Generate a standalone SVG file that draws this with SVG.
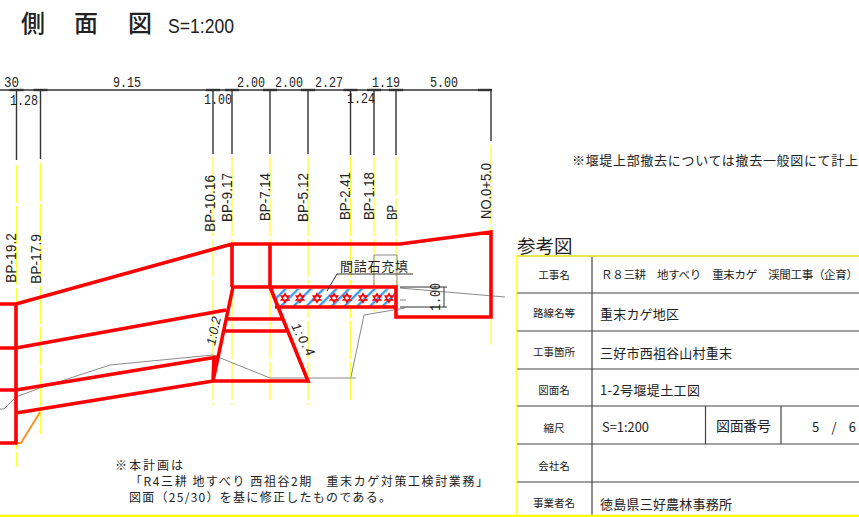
<svg xmlns="http://www.w3.org/2000/svg" xmlns:xlink="http://www.w3.org/1999/xlink" width="859" height="517" viewBox="0 0 859 517">
<style>
text{font-family:"Noto Sans CJK JP","Liberation Sans",sans-serif;fill:#222}
.dim{font-family:"Liberation Mono",monospace;font-size:14px}
.bp{font-family:"Liberation Sans",sans-serif;font-size:14px}
.blk{stroke:#333;stroke-width:1.4;fill:none}
.yel{stroke:#ffff33;stroke-width:1.3;fill:none}
.dash{stroke-dasharray:38 3}
.red{stroke:#ff0000;stroke-width:3.6;fill:none;stroke-linejoin:miter}
.gry{stroke:#8a8a8a;stroke-width:1;fill:none}
.tb{stroke:#444;stroke-width:1.2;fill:none}
.lab{font-size:10.5px;text-anchor:middle}
.val{font-size:13px}
.star{fill:none;stroke:#ff0000;stroke-width:1.3}
</style>
<defs>
<pattern id="hatch" width="9" height="9" patternUnits="userSpaceOnUse" patternTransform="rotate(45)">
<rect width="9" height="9" fill="#fff"/><rect x="0" y="0" width="2.4" height="9" fill="#3d9bea"/>
</pattern>
<g id="st"><path class="star" d="M0-4.5 3.9 2.2H-3.9ZM0 4.5 3.9-2.2H-3.9Z"/></g>
<g id="tick"><path d="M-7 0H7" stroke="#333" stroke-width="2.4"/></g>
</defs>
<rect width="859" height="517" fill="#fff"/>
<g id="title">
<text x="21" y="32" font-size="24" font-weight="500">側</text>
<text x="74" y="32" font-size="24" font-weight="500">面</text>
<text x="128" y="32" font-size="24" font-weight="500">図</text>
<text x="168" y="33" style="font-family:'Liberation Sans',sans-serif" font-size="21" textLength="66" lengthAdjust="spacingAndGlyphs">S=1:200</text>
</g>
<g id="connectors">
<path class="yel dash" d="M16.5 165V467M40.5 163V434M213 157V405M232 157V405M270 157V400M308 157V405M350.5 157V400M374 157V312M396 157V290M491 145V345"/>
<path class="blk" d="M0 90H491M16.5 90V160M40.5 90V159M213 90V154M232 90V154M270 90V154M308 90V154M350.5 90V155M374 90V155M396 90V155M491 90V141"/>
<use href="#tick" x="16.5" y="90"/><use href="#tick" x="40.5" y="90"/><use href="#tick" x="213" y="90"/><use href="#tick" x="232" y="90"/><use href="#tick" x="270" y="90"/><use href="#tick" x="308" y="90"/><use href="#tick" x="350.5" y="90"/><use href="#tick" x="374" y="90"/><use href="#tick" x="396" y="90"/><use href="#tick" x="485" y="90"/>
<path class="gry" d="M0 409H4L16 397 40 388 110 365 213 355 270 378H356M351 377 364 315 405 308M374 287V255H397V287M400 288 505 297M400 300H406"/>
<path d="M16 443H21L40 412" stroke="#ff8c1a" stroke-width="1.8" fill="none"/>
</g>
<g id="dimension-labels">
<text class="dim" x="4" y="87" textLength="15" lengthAdjust="spacingAndGlyphs">30</text>
<text class="dim" x="10" y="105" textLength="28" lengthAdjust="spacingAndGlyphs">1.28</text>
<text class="dim" x="113" y="87" textLength="28" lengthAdjust="spacingAndGlyphs">9.15</text>
<text class="dim" x="204" y="104" textLength="28" lengthAdjust="spacingAndGlyphs">1.00</text>
<text class="dim" x="237" y="87" textLength="28" lengthAdjust="spacingAndGlyphs">2.00</text>
<text class="dim" x="275" y="87" textLength="28" lengthAdjust="spacingAndGlyphs">2.00</text>
<text class="dim" x="315" y="87" textLength="28" lengthAdjust="spacingAndGlyphs">2.27</text>
<text class="dim" x="347" y="103" textLength="28" lengthAdjust="spacingAndGlyphs">1.24</text>
<text class="dim" x="372" y="87" textLength="28" lengthAdjust="spacingAndGlyphs">1.19</text>
<text class="dim" x="430" y="87" textLength="28" lengthAdjust="spacingAndGlyphs">5.00</text>
</g>
<g id="station-labels">
<text class="bp" transform="translate(15.5 283) rotate(-90)" textLength="50" lengthAdjust="spacingAndGlyphs">BP-19.2</text>
<text class="bp" transform="translate(40.5 284) rotate(-90)" textLength="50" lengthAdjust="spacingAndGlyphs">BP-17.9</text>
<text class="bp" transform="translate(214.5 232) rotate(-90)" textLength="57" lengthAdjust="spacingAndGlyphs">BP-10.16</text>
<text class="bp" transform="translate(231.5 222) rotate(-90)" textLength="49" lengthAdjust="spacingAndGlyphs">BP-9.17</text>
<text class="bp" transform="translate(270 221) rotate(-90)" textLength="48" lengthAdjust="spacingAndGlyphs">BP-7.14</text>
<text class="bp" transform="translate(307.5 222) rotate(-90)" textLength="49" lengthAdjust="spacingAndGlyphs">BP-5.12</text>
<text class="bp" transform="translate(350 220) rotate(-90)" textLength="48" lengthAdjust="spacingAndGlyphs">BP-2.41</text>
<text class="bp" transform="translate(374 220) rotate(-90)" textLength="48" lengthAdjust="spacingAndGlyphs">BP-1.18</text>
<text class="bp" transform="translate(397 220) rotate(-90)" textLength="15" lengthAdjust="spacingAndGlyphs">BP</text>
<text class="bp" transform="translate(491 219) rotate(-90)" textLength="56" lengthAdjust="spacingAndGlyphs">NO.0+5.0</text>
</g>
<g id="dam-section">
<polygon points="272,289 396,289 396,306 279,306" fill="url(#hatch)"/>
<path class="red" d="M0 304H16L232 244H400L491 232V317H396V287H232M232 244V287M270 244V287M16 304V443H0M0 348H16L226 310M0 390H16L217 357M16 413 213 381H308L270 287M233 287 213 381 214 357M226 319H284M223 331H288M275 307H396"/>
<use href="#st" x="285" y="298"/><use href="#st" x="300" y="298"/><use href="#st" x="317" y="298"/><use href="#st" x="334" y="298"/><use href="#st" x="347" y="298"/><use href="#st" x="363" y="298"/><use href="#st" x="377" y="298"/><use href="#st" x="389" y="298"/>
<text transform="translate(215 346) rotate(-78)" font-size="13" font-style="italic" style="font-family:'Liberation Sans',sans-serif" textLength="29">1:0.2</text>
<text transform="translate(291 326) rotate(62)" font-size="13" font-style="italic" style="font-family:'Liberation Sans',sans-serif" textLength="35">1:0.4</text>
</g>
<g id="fill-note">
<text x="340" y="271" font-size="13" textLength="68">間詰石充填</text>
<path d="M413 274H337L327 291" stroke="#333" stroke-width="1" fill="none"/>
</g>
<g id="height-dimension">
<path d="M400 287H447M400 307H447M444 287V307" stroke="#333" stroke-width="1" fill="none"/>
<text class="dim" transform="translate(440 311) rotate(-90)" textLength="28" lengthAdjust="spacingAndGlyphs">1.00</text>
</g>
<g id="note-top"><text x="572" y="165" font-size="13" textLength="286">※堰堤上部撤去については撤去一般図にて計上</text></g>
<g id="note-bottom">
<text x="115" y="470" font-size="12" textLength="68">※本計画は</text>
<text x="130" y="486" font-size="12" textLength="358">「R4三耕 地すべり 西祖谷2期　重末カゲ対策工検討業務」</text>
<text x="129" y="502" font-size="12" textLength="262">図面（25/30）を基に修正したものである。</text>
</g>
<g id="reference-table">
<text x="517" y="253" font-size="18.5">参考図</text>
<path class="tb" d="M517 256H859M517 293H859M517 331H859M517 369H859M517 406H859M517 444H859M517 482H859M592 256V516M705.5 406V444M781 406V444"/>
<path d="M516.5 256V516M516 256H859" stroke="#ffff33" stroke-width="1.4" fill="none"/>
<text class="lab" x="554" y="279">工事名</text>
<text class="lab" x="554" y="317">路線名等</text>
<text class="lab" x="554" y="356">工事箇所</text>
<text class="lab" x="554" y="394">図面名</text>
<text class="lab" x="554" y="432">縮尺</text>
<text class="lab" x="554" y="470">会社名</text>
<text class="lab" x="554" y="507">事業者名</text>
<text class="val" x="601" y="279" textLength="257" style="font-size:11.5px">Ｒ８三耕　地すべり　重末カゲ　渓間工事（企育）</text>
<text class="val" x="600" y="319" textLength="79">重末カゲ地区</text>
<text class="val" x="600" y="358" textLength="132">三好市西祖谷山村重末</text>
<text class="val" x="600" y="395" textLength="100">1-2号堰堤土工図</text>
<text class="val" x="602" y="432" textLength="47" lengthAdjust="spacingAndGlyphs">S=1:200</text>
<text x="716" y="431" font-size="14" textLength="55">図面番号</text>
<text class="val" x="812" y="432" textLength="44">5 / 6</text>
<text class="val" x="600" y="509" textLength="132">徳島県三好農林事務所</text>
</g>
<g id="frame"><path d="M0 516H859" stroke="#ffff00" stroke-width="2.6"/></g>
</svg>
